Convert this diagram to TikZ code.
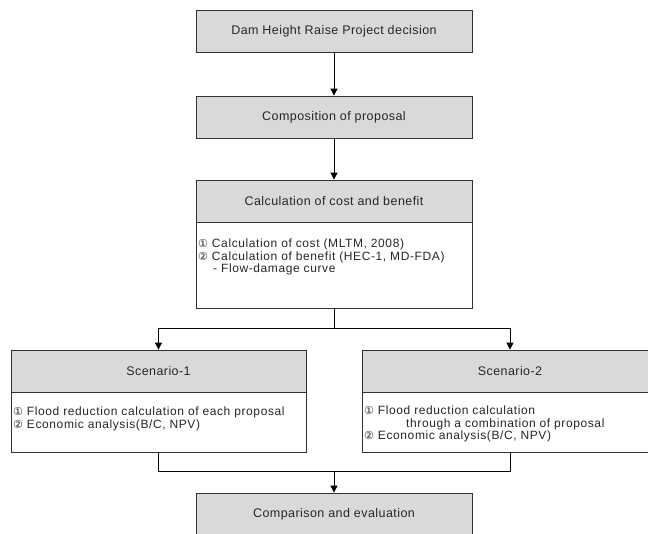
\documentclass[tikz,border=0pt]{standalone}
\usepackage{fontspec}
\setmainfont{Liberation Sans}
\newfontfamily\hdrfont[LetterSpace=3.5]{Liberation Sans}
\newfontfamily\bodyfont[LetterSpace=5]{Liberation Sans}
\newfontfamily\symfont{DejaVu Sans}
\usetikzlibrary{arrows.meta}
\newcommand{\cnum}[1]{{\symfont\fontsize{11}{12}\selectfont #1}}
\begin{document}
\begin{tikzpicture}[x=1pt,y=-1pt,
  hdr/.style={draw=black!80,line width=0.8pt,fill=black!15,minimum height=42pt,inner sep=0pt,
    font=\hdrfont\fontsize{12.5}{14}\selectfont,text=black!85},
  bodybox/.style={draw=black!80,line width=0.8pt,fill=white,inner sep=0pt},
  bodytxt/.style={align=left,inner sep=0pt,font=\bodyfont\fontsize{12}{12.3}\selectfont,text=black!85,anchor=north west},
  conn/.style={draw=black,line width=0.8pt},
  arr/.style={conn,-{Triangle[length=7pt,width=7pt]}}]
\useasboundingbox (0,0) rectangle (648,533);
\clip (0,0) rectangle (648,533);
% boxes
\node[hdr,minimum width=276pt] (b1) at (334,31.5) {Dam Height Raise Project decision};
\node[hdr,minimum width=276pt] (b2) at (334,117) {Composition of proposal};
\node[hdr,minimum width=276pt] (b3) at (334,201) {Calculation of cost and benefit};
\node[bodybox,minimum width=276pt,minimum height=86pt] (b3b) at (334,265) {};
\node[bodytxt] (b3t) at (198,239) {\cnum{①} Calculation of cost (MLTM, 2008)\\\cnum{②} Calculation of benefit (HEC-1, MD-FDA)\\\hspace{15pt}- Flow-damage curve};
\node[hdr,minimum width=295pt] (s1) at (158.5,371) {Scenario-1};
\node[bodybox,minimum width=295pt,minimum height=60pt] (s1b) at (158.5,422) {};
\node[bodytxt] (s1t) at (13,407) {\cnum{①} Flood reduction calculation of each proposal\\\cnum{②} Economic analysis(B/C, NPV)};
\node[hdr,minimum width=296pt] (s2) at (510,371) {Scenario-2};
\node[bodybox,minimum width=296pt,minimum height=60pt] (s2b) at (510,422) {};
\node[bodytxt] (s2t) at (364,406) {\cnum{①} Flood reduction calculation\\\hspace{42pt}through a combination of proposal\\\cnum{②} Economic analysis(B/C, NPV)};
\node[hdr,minimum width=276pt] (fin) at (334,514) {Comparison and evaluation};
% connectors
\coordinate (split) at (334,328);
\coordinate (join) at (334,471);
\draw[arr] (b1.south) -- (b2.north);
\draw[arr] (b2.south) -- (b3.north);
\draw[conn] (b3b.south) -- (split);
\draw[arr] (split) -| (s1.north);
\draw[arr] (split) -| (s2.north);
\draw[conn] (s1b.south) |- (join);
\draw[conn] (s2b.south) |- (join);
\draw[arr] (join) -- (fin.north);
\end{tikzpicture}
\end{document}
